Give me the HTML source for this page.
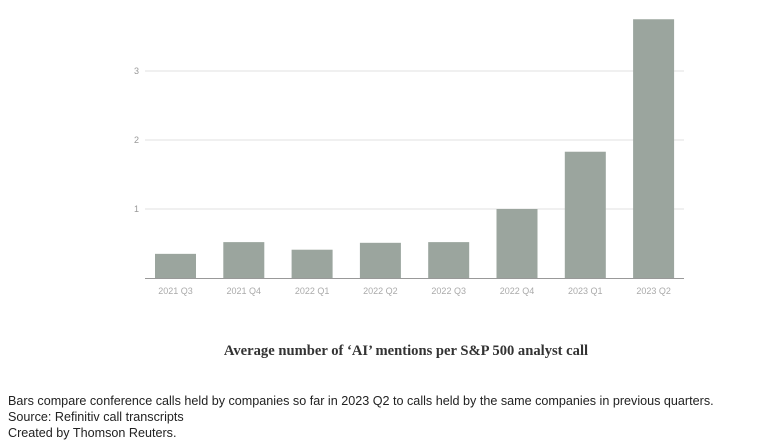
<!DOCTYPE html>
<html><head><meta charset="utf-8"><style>
body{margin:0;background:#fff;width:773px;height:446px;overflow:hidden;font-family:"Liberation Sans",sans-serif}
svg{position:absolute;left:0;top:0}
.note{position:absolute;left:8px;font-size:12.6px;color:#222;line-height:16px}
</style></head><body>
<svg width="773" height="446">
<g id="grid"></g><g id="bars"></g><g id="xl"></g>
<text x="406" y="355" text-anchor="middle" font-family="Liberation Serif,serif" font-weight="bold" font-size="14.6" fill="#333">Average number of ‘AI’ mentions per S&amp;P 500 analyst call</text>
</svg>
<div class="note" style="top:393px">Bars compare conference calls held by companies so far in 2023 Q2 to calls held by the same companies in previous quarters.<br>Source: Refinitiv call transcripts<br>Created by Thomson Reuters.</div>
<script>
const categories=["2021 Q3","2021 Q4","2022 Q1","2022 Q2","2022 Q3","2022 Q4","2023 Q1","2023 Q2"];
const values=[0.35,0.52,0.41,0.51,0.52,1.0,1.83,3.75];
const yTicks=[1,2,3];
const ns="http://www.w3.org/2000/svg";
const x0=145,x1=684,yBase=278,pxPer=69;
const step=68.3,firstC=175.5,bw=41;
const y=v=>yBase-v*pxPer;
const xc=i=>firstC+step*i;
function mk(t,a,p){const e=document.createElementNS(ns,t);for(const k in a)e.setAttribute(k,a[k]);p.appendChild(e);return e;}
const g=document.getElementById('grid'),b=document.getElementById('bars'),xl=document.getElementById('xl');
yTicks.forEach(t=>{
 const l=mk('line',{x1:x0,x2:x1,y1:y(t),y2:y(t),stroke:'#e2e2e2','stroke-width':1},g);
 
 
 const tx=mk('text',{x:139,y:y(t)+3,'text-anchor':'end','font-size':9,fill:'#999'},g);
 tx.textContent=t;
 
 
});
values.forEach((v,i)=>{
 const r=mk('rect',{x:xc(i)-bw/2,y:y(v),width:bw,height:v*pxPer,fill:'#9ba59e'},b);
 
 
 const t=mk('text',{x:xc(i),y:294,'text-anchor':'middle','font-size':9,fill:'#aaa'},xl);
 t.textContent=categories[i];
 
 
});
const ax=mk('line',{x1:x0,x2:x1,y1:yBase+0.5,y2:yBase+0.5,stroke:'#999','stroke-width':1},g);


</script>
</body></html>
